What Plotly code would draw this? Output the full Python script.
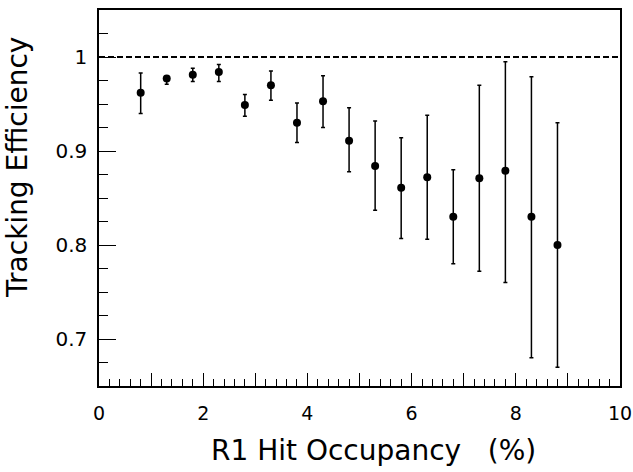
import numpy as np
import plotly.graph_objects as go

# Tracking efficiency vs R1 hit occupancy
occupancy = [0.8, 1.3, 1.8, 2.3, 2.8, 3.3, 3.8, 4.3, 4.8, 5.3, 5.8, 6.3, 6.8, 7.3, 7.8, 8.3, 8.8]
efficiency = [0.962, 0.977, 0.981, 0.984, 0.949, 0.970, 0.930, 0.953, 0.911,
              0.884, 0.861, 0.872, 0.830, 0.871, 0.879, 0.830, 0.800]
err_high = [0.983, 0.980, 0.988, 0.992, 0.960, 0.985, 0.951, 0.980, 0.946,
            0.932, 0.914, 0.938, 0.880, 0.970, 0.995, 0.979, 0.930]
err_low = [0.940, 0.971, 0.974, 0.974, 0.937, 0.954, 0.909, 0.925, 0.878,
           0.837, 0.807, 0.806, 0.780, 0.772, 0.760, 0.680, 0.670]

ref_x = [0, 10]
ref_y = [1.0, 1.0]

x_tickvals = list(range(0, 11))
x_ticktext = [str(v) if v % 2 == 0 else "" for v in x_tickvals]

eff = np.array(efficiency)
plus = np.array(err_high) - eff
minus = eff - np.array(err_low)

fig = go.Figure()

fig.add_trace(go.Scatter(
    x=ref_x, y=ref_y, mode="lines",
    line=dict(color="black", width=2, dash="6px,3px"),
    hoverinfo="skip", showlegend=False,
))

fig.add_trace(go.Scatter(
    x=occupancy, y=efficiency, mode="markers",
    marker=dict(color="black", size=8, symbol="circle"),
    error_y=dict(type="data", array=plus, arrayminus=minus,
                 color="black", thickness=1.5, width=2),
    showlegend=False,
))

font = "DejaVu Sans, Arial, Helvetica, sans-serif"

fig.update_layout(
    width=633, height=472,
    margin=dict(l=99, r=13, t=10, b=86),
    paper_bgcolor="white", plot_bgcolor="white",
    font=dict(family=font, color="black", size=19),
    xaxis=dict(
        range=[0, 10], tickvals=x_tickvals, ticktext=x_ticktext,
        ticks="inside", ticklen=13, tickwidth=1.2, tickcolor="black",
        minor=dict(dtick=0.2, ticks="inside", ticklen=7, tickwidth=1, tickcolor="black"),
        showgrid=False, zeroline=False, automargin=False,
        showline=True, linecolor="black", linewidth=1.5, mirror=True,
        tickfont=dict(size=19), ticklabelstandoff=9, ticklabeloverflow="allow",
    ),
    yaxis=dict(
        range=[0.65, 1.05], dtick=0.1, tick0=0,
        ticks="inside", ticklen=17, tickwidth=1.2, tickcolor="black",
        minor=dict(dtick=0.025, ticks="inside", ticklen=9, tickwidth=1, tickcolor="black"),
        showgrid=False, zeroline=False, automargin=False,
        showline=True, linecolor="black", linewidth=1.5, mirror=True,
        tickfont=dict(size=20), ticklabelstandoff=6,
    ),
)

# axis titles placed as annotations to follow the original offsets
fig.add_annotation(
    text="R1 Hit Occupancy\u00a0\u00a0\u00a0(%)", xref="paper", yref="paper",
    x=0.526, y=0, yanchor="middle", yshift=-64, showarrow=False,
    font=dict(size=28),
)
fig.add_annotation(
    text="Tracking Efficiency", xref="paper", yref="paper", textangle=-90,
    x=0, y=0.58, xanchor="center", xshift=-81, showarrow=False,
    font=dict(size=28),
)

fig.write_html("out.html", config={"displayModeBar": False},
               post_script="document.body.style.margin='0';")
